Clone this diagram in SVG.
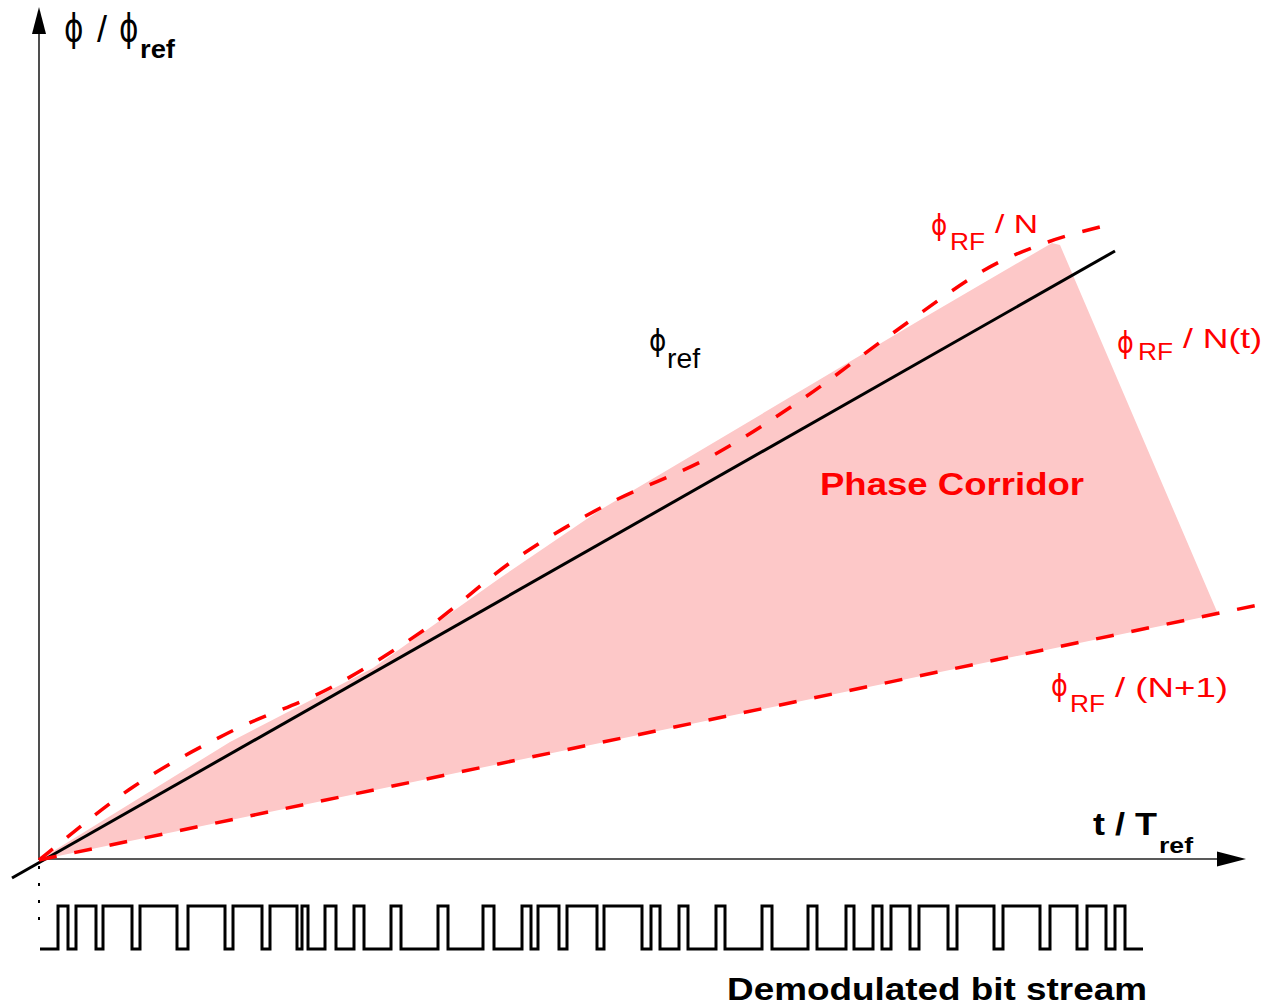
<svg xmlns="http://www.w3.org/2000/svg" width="1266" height="1008" viewBox="0 0 1266 1008">
<style>
.t{font-family:"Liberation Sans",Arial,sans-serif}
.p{font-family:"DejaVu Sans",sans-serif}
.b{font-weight:bold}
.red{fill:#ff0000}
.dash{fill:none;stroke:#ff0000;stroke-width:3.5;stroke-dasharray:18 18}
.axis{stroke:#222;stroke-width:1.6;fill:none}
</style>
<rect width="1266" height="1008" fill="#fff"/>
<g id="corridor">
<polygon points="39,860 230,742 373,668 500,578 600,510 920,320 1052,243 1060,245 1218,614 39,860" fill="#fdc8c8"/>
</g>
<g id="connectors">
<line class="axis" x1="39" y1="860" x2="39" y2="30"/>
<polygon points="39,7 32,34 46,34" fill="#000"/>
<line class="axis" x1="39" y1="859" x2="1220" y2="859"/>
<polygon points="1246,859 1217,851.5 1217,866.5" fill="#000"/>
<line x1="39" y1="866" x2="39" y2="928" stroke="#000" stroke-width="2" stroke-dasharray="3 14"/>
<line id="phi-ref-line" x1="12" y1="878" x2="1115" y2="251" stroke="#000" stroke-width="3"/>
<path id="phi-rf-n" class="dash" d="M39,860 C54.7,847.8 101.2,808.3 133,787 C164.8,765.7 197.2,748.5 230,732 C262.8,715.5 297.2,705.3 330,688 C362.8,670.7 396.3,649.3 427,628 C457.7,606.7 484.2,580.5 514,560 C543.8,539.5 573.3,522.2 606,505 C638.7,487.8 677.5,474.5 710,457 C742.5,439.5 770.5,420.7 801,400 C831.5,379.3 863,354.3 893,333 C923,311.7 955.2,287.2 981,272 C1006.8,256.8 1025.7,250.2 1048,242 C1070.3,233.8 1103.8,226.2 1115,223"/>
<path id="phi-rf-n1" class="dash" d="M39,860 L1258,605"/>
</g>
<g id="label-y">
<text class="p" x="0" y="0" font-size="37" transform="translate(64,41) scale(0.8,1)">ϕ</text>
<text class="t" x="97" y="42" font-size="36">/</text>
<text class="p" x="0" y="0" font-size="37" transform="translate(119,41) scale(0.8,1)">ϕ</text>
<text class="t b" x="140" y="58" font-size="25" textLength="35" lengthAdjust="spacingAndGlyphs">ref</text>
</g>
<g id="label-phiref">
<text class="p" x="0" y="0" font-size="31" transform="translate(649,351) scale(0.85,1)">ϕ</text>
<text class="t" x="667" y="368" font-size="27" textLength="33" lengthAdjust="spacingAndGlyphs">ref</text>
</g>
<g id="label-n" class="red">
<text class="p" x="0" y="0" font-size="29" transform="translate(931,235) scale(0.85,1)">ϕ</text>
<text class="t" x="950" y="250" font-size="24" textLength="35" lengthAdjust="spacingAndGlyphs">RF</text>
<text class="t" x="995" y="233" font-size="25" textLength="43" lengthAdjust="spacingAndGlyphs">/ N</text>
</g>
<g id="label-nt" class="red">
<text class="p" x="0" y="0" font-size="30" transform="translate(1117,353) scale(0.85,1)">ϕ</text>
<text class="t" x="1138" y="360" font-size="24" textLength="35" lengthAdjust="spacingAndGlyphs">RF</text>
<text class="t" x="1183" y="348" font-size="28" textLength="79" lengthAdjust="spacingAndGlyphs">/ N(t)</text>
</g>
<g id="label-n1" class="red">
<text class="p" x="0" y="0" font-size="30" transform="translate(1051,696) scale(0.85,1)">ϕ</text>
<text class="t" x="1070" y="712" font-size="24" textLength="35" lengthAdjust="spacingAndGlyphs">RF</text>
<text class="t" x="1115" y="697" font-size="28" textLength="113" lengthAdjust="spacingAndGlyphs">/ (N+1)</text>
</g>
<g id="label-corridor">
<text class="t b red" x="820" y="495" font-size="32" textLength="264" lengthAdjust="spacingAndGlyphs">Phase Corridor</text>
</g>
<g id="label-x">
<text class="t b" x="1093" y="835" font-size="31" textLength="64" lengthAdjust="spacingAndGlyphs">t / T</text>
<text class="t b" x="1159" y="853" font-size="22" textLength="34" lengthAdjust="spacingAndGlyphs">ref</text>
</g>
<g id="bitstream">
<path d="M40 949 H58 V906 H68 V949 H76 V906 H96 V949 H103 V906 H132 V949 H140 V906 H177 V949 H188 V906 H225 V949 H233 V906 H262 V949 H270 V906 H297 V949 H302 V906 H308 V949 H325 V906 H336 V949 H354 V906 H364 V949 H391 V906 H401 V949 H438 V906 H448 V949 H483 V906 H494 V949 H522 V906 H531 V949 H538 V906 H559 V949 H567 V906 H597 V949 H604 V906 H642 V949 H651 V906 H660 V949 H679 V906 H688 V949 H716 V906 H725 V949 H762 V906 H772 V949 H808 V906 H817 V949 H846 V906 H854 V949 H873 V906 H882 V949 H891 V906 H910 V949 H919 V906 H948 V949 H957 V906 H994 V949 H1003 V906 H1040 V949 H1050 V906 H1077 V949 H1087 V906 H1106 V949 H1115 V906 H1125 V949 H1143" fill="none" stroke="#000" stroke-width="3"/>
<text class="t b" x="727" y="1000" font-size="32" textLength="420" lengthAdjust="spacingAndGlyphs">Demodulated bit stream</text>
</g>
</svg>
